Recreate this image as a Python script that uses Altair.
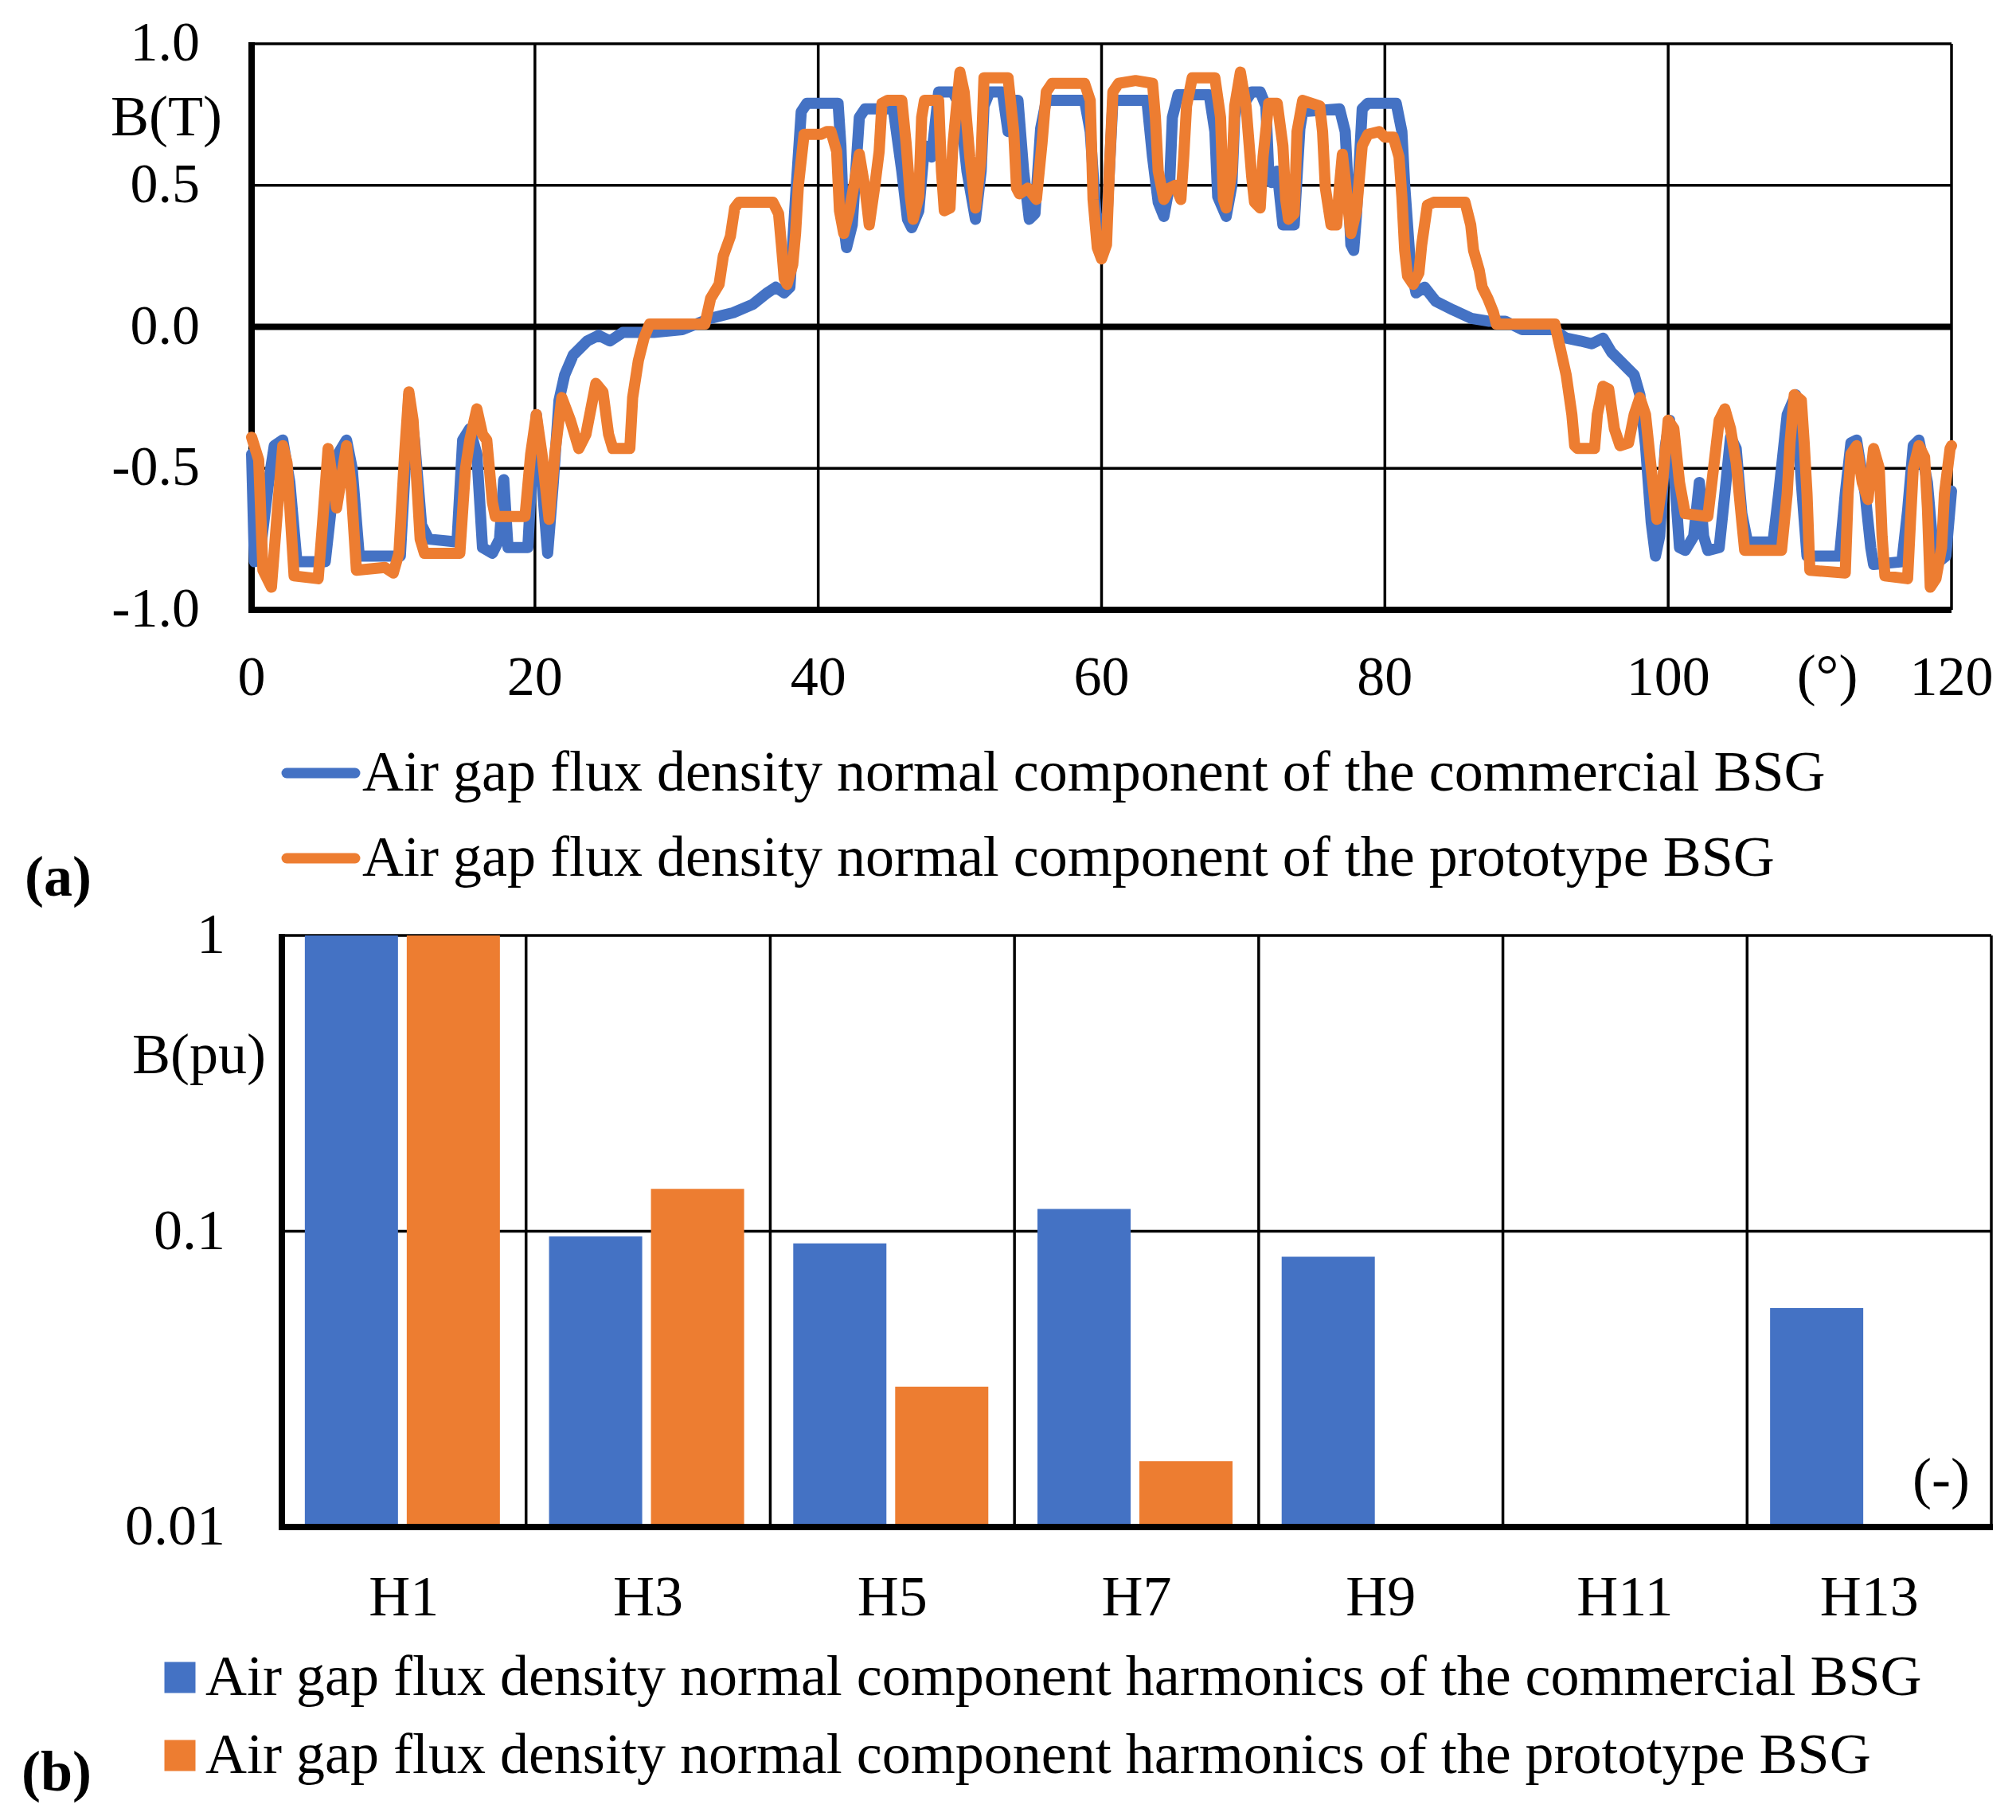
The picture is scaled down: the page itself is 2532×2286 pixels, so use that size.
import altair as alt
import pandas as pd

FONT = "Liberation Serif"
BLUE = "#4472C4"
ORANGE = "#ED7D31"

# ---------------- (a) waveform data ----------------
wave_series = [
    "Air gap flux density normal component of the commercial BSG",
    "Air gap flux density normal component of the prototype BSG",
]

commercial_angle = [
    0.0, 0.2, 0.6, 1.2, 1.6, 2.2, 2.7, 3.2, 5.2, 5.6, 6.1, 6.7, 7.1, 7.6, 10.5, 10.9, 11.1, 11.5,
    12.0, 12.5, 14.5, 14.9, 15.4, 15.9, 16.3, 17.0, 17.5, 17.8, 18.1, 19.5, 19.8, 20.1, 20.5, 20.9,
    21.3, 21.7, 22.1, 22.7, 23.7, 24.5, 25.3, 26.2, 27.5, 28.4, 30.4, 32.4, 34.0, 35.4, 36.4, 37.0,
    37.6, 38.0, 38.4, 38.8, 39.2, 41.4, 41.6, 41.8, 42.0, 42.4, 42.9, 43.3, 45.3, 45.9, 46.3, 46.6,
    47.1, 47.5, 48.0, 48.5, 49.5, 50.0, 50.5, 51.1, 51.5, 51.7, 52.1, 53.0, 53.4, 53.8, 54.1, 54.5,
    54.9, 55.3, 55.7, 56.1, 58.8, 59.2, 59.6, 60.0, 60.4, 60.8, 63.2, 63.6, 64.0, 64.4, 64.8, 65.0,
    65.4, 67.6, 68.0, 68.2, 68.8, 69.2, 69.4, 69.8, 70.2, 70.6, 71.2, 71.6, 71.8, 72.0, 72.4, 72.8,
    73.6, 74.0, 74.2, 76.8, 77.2, 77.4, 77.6, 77.8, 78.0, 78.4, 78.8, 80.8, 81.2, 81.4, 81.8, 82.2,
    82.8, 83.6, 84.8, 86.1, 87.3, 88.5, 89.7, 91.9, 92.8, 93.8, 94.6, 95.4, 96.0, 96.8, 97.6, 98.0,
    98.4, 98.8, 99.1, 99.4, 99.8, 100.1, 100.4, 100.8, 101.2, 101.8, 102.2, 102.5, 102.8, 103.6,
    104.0, 104.4, 104.8, 105.2, 105.6, 107.4, 107.8, 108.4, 109.0, 109.4, 109.8, 112.1, 112.5,
    112.9, 113.3, 113.9, 114.3, 114.5, 116.5, 116.9, 117.3, 117.7, 118.3, 118.7, 119.1, 119.6, 120.0,
]
commercial_b = [
    -0.45, -0.83, -0.80, -0.55, -0.42, -0.40, -0.55, -0.83, -0.83, -0.65, -0.45, -0.40, -0.50, -0.81,
    -0.81, -0.45, -0.24, -0.40, -0.70, -0.75, -0.76, -0.40, -0.36, -0.45, -0.78, -0.80, -0.75, -0.54,
    -0.78, -0.78, -0.50, -0.31, -0.55, -0.80, -0.55, -0.26, -0.17, -0.10, -0.05, -0.03, -0.05, -0.02,
    -0.02, -0.02, -0.01, 0.03, 0.05, 0.08, 0.12, 0.14, 0.12, 0.14, 0.46, 0.76, 0.79, 0.79, 0.64, 0.36,
    0.28, 0.36, 0.74, 0.77, 0.77, 0.55, 0.38, 0.35, 0.41, 0.64, 0.60, 0.83, 0.83, 0.78, 0.55, 0.38,
    0.55, 0.78, 0.83, 0.83, 0.69, 0.80, 0.80, 0.55, 0.38, 0.40, 0.70, 0.80, 0.80, 0.69, 0.40, 0.28,
    0.40, 0.80, 0.80, 0.60, 0.44, 0.39, 0.50, 0.74, 0.82, 0.82, 0.69, 0.46, 0.39, 0.50, 0.74, 0.86,
    0.80, 0.83, 0.83, 0.78, 0.55, 0.51, 0.55, 0.36, 0.36, 0.70, 0.76, 0.77, 0.69, 0.50, 0.29, 0.27,
    0.40, 0.77, 0.79, 0.79, 0.69, 0.50, 0.22, 0.12, 0.14, 0.09, 0.06, 0.03, 0.02, 0.02, -0.01, -0.01,
    -0.04, -0.05, -0.06, -0.04, -0.09, -0.13, -0.17, -0.24, -0.42, -0.69, -0.81, -0.74, -0.42, -0.33,
    -0.50, -0.78, -0.79, -0.74, -0.55, -0.74, -0.79, -0.78, -0.59, -0.39, -0.43, -0.66, -0.76, -0.76,
    -0.59, -0.31, -0.24, -0.55, -0.81, -0.81, -0.59, -0.41, -0.40, -0.59, -0.78, -0.84, -0.83, -0.65,
    -0.42, -0.40, -0.55, -0.78, -0.83, -0.81, -0.58,
]

prototype_angle = [
    0.0, 0.5, 0.8, 1.4, 1.9, 2.2, 2.5, 3.0, 4.7, 5.0, 5.4, 6.0, 6.7, 7.0, 7.4, 9.4, 10.0, 10.4, 10.8,
    11.1, 11.4, 11.9, 12.2, 14.7, 15.1, 15.4, 15.9, 16.3, 16.6, 17.0, 17.2, 19.3, 19.7, 20.1, 20.5,
    21.0, 21.4, 21.9, 22.5, 23.1, 23.6, 24.3, 24.8, 25.2, 25.5, 26.7, 26.9, 27.3, 27.7, 28.1, 32.0,
    32.4, 33.0, 33.3, 33.8, 34.1, 34.4, 36.8, 37.2, 37.4, 37.6, 37.8, 38.2, 38.4, 38.6, 39.0, 40.2,
    40.6, 40.9, 41.3, 41.5, 41.8, 42.2, 42.9, 43.3, 43.6, 44.0, 44.3, 44.5, 44.9, 45.9, 46.2, 46.5,
    46.7, 47.1, 47.3, 47.5, 48.5, 48.7, 48.9, 49.3, 49.5, 50.0, 50.3, 50.7, 51.1, 51.5, 51.7, 53.4,
    53.8, 54.0, 54.2, 54.8, 55.4, 55.8, 56.1, 56.5, 58.8, 59.2, 59.4, 59.7, 60.0, 60.35, 60.55, 60.8,
    61.2, 62.4, 63.6, 63.8, 64.0, 64.4, 64.8, 65.2, 65.6, 65.8, 66.0, 66.4, 68.0, 68.4, 68.6, 68.8,
    69.2, 69.4, 69.8, 70.2, 70.6, 70.8, 71.2, 71.4, 71.8, 72.4, 72.8, 73.0, 73.2, 73.6, 73.8, 74.2,
    75.4, 75.6, 75.8, 76.2, 76.6, 76.8, 77.0, 77.2, 77.6, 78.0, 78.4, 78.8, 79.6, 80.0, 80.6, 81.0,
    81.2, 81.4, 81.6, 82.0, 82.4, 82.6, 82.8, 83.0, 83.45, 85.66, 86.06, 86.26, 86.66, 86.87, 87.27,
    87.67, 87.87, 92.0, 92.4, 92.8, 93.2, 93.4, 93.6, 94.8, 95.0, 95.4, 95.8, 96.2, 96.6, 97.2, 97.6,
    98.0, 98.4, 98.8, 99.2, 99.6, 100.0, 100.4, 100.8, 101.2, 102.8, 103.2, 103.6, 104.0, 104.4,
    104.8, 105.2, 105.4, 108.0, 108.4, 108.6, 108.9, 109.4, 109.6, 109.8, 110.0, 112.5, 112.7, 112.9,
    113.3, 113.7, 114.1, 114.5, 114.9, 115.1, 115.3, 116.9, 117.1, 117.3, 117.7, 118.1, 118.3, 118.5,
    118.9, 119.3, 119.5, 119.9, 120.0,
]
prototype_b = [
    -0.39, -0.47, -0.86, -0.92, -0.60, -0.42, -0.48, -0.88, -0.89, -0.70, -0.43, -0.64, -0.42, -0.55,
    -0.86, -0.85, -0.87, -0.80, -0.45, -0.23, -0.33, -0.75, -0.80, -0.80, -0.50, -0.40, -0.29, -0.38,
    -0.40, -0.62, -0.67, -0.67, -0.45, -0.31, -0.45, -0.68, -0.45, -0.25, -0.33, -0.43, -0.38, -0.20,
    -0.23, -0.38, -0.43, -0.43, -0.25, -0.12, -0.04, 0.01, 0.01,
    0.10, 0.15, 0.25, 0.32, 0.42, 0.44, 0.44, 0.40, 0.29, 0.17, 0.15, 0.22, 0.33, 0.50, 0.68, 0.68,
    0.69, 0.69, 0.62, 0.41, 0.33, 0.41, 0.61, 0.49, 0.36, 0.50, 0.62, 0.79, 0.80, 0.80, 0.65, 0.46,
    0.38, 0.46, 0.74, 0.80, 0.80, 0.55, 0.41, 0.42, 0.64, 0.90, 0.83, 0.60, 0.42, 0.60, 0.88, 0.88,
    0.69, 0.49, 0.47, 0.49, 0.45, 0.65, 0.83, 0.86, 0.86, 0.80, 0.45, 0.28, 0.24, 0.29, 0.55, 0.83,
    0.86, 0.87, 0.86, 0.74, 0.55, 0.45, 0.49, 0.50, 0.45, 0.60, 0.78, 0.88, 0.88, 0.74, 0.45, 0.42,
    0.55, 0.78, 0.90, 0.78, 0.53, 0.44, 0.42, 0.60, 0.79, 0.79, 0.64, 0.45, 0.38, 0.40, 0.69, 0.80,
    0.78, 0.69, 0.49, 0.36, 0.36, 0.50, 0.61, 0.52, 0.33, 0.41, 0.64, 0.68, 0.69, 0.67, 0.67, 0.60,
    0.46, 0.27, 0.18, 0.15, 0.19, 0.29, 0.36, 0.43, 0.44, 0.44, 0.36, 0.27, 0.20, 0.14, 0.10,
    0.05, 0.01, 0.01, -0.08, -0.17, -0.31, -0.42, -0.43, -0.43, -0.31, -0.21, -0.22, -0.36, -0.42, -0.41, -0.31,
    -0.25, -0.31, -0.50, -0.68, -0.55, -0.33, -0.36, -0.55, -0.66, -0.67, -0.50, -0.33, -0.29, -0.36,
    -0.48, -0.69, -0.79, -0.79, -0.59, -0.41, -0.24, -0.26, -0.41, -0.59, -0.86, -0.87, -0.59, -0.45,
    -0.42, -0.55, -0.61, -0.43, -0.50, -0.74, -0.88, -0.89, -0.69, -0.50, -0.42, -0.46, -0.64, -0.92,
    -0.89, -0.78, -0.59, -0.43, -0.42,
]

# ---------------- (b) harmonic data ----------------
harmonics = ["H1", "H3", "H5", "H7", "H9", "H11", "H13"]
harm_series = [
    "Air gap flux density normal component harmonics of the commercial BSG",
    "Air gap flux density normal component harmonics of the prototype BSG",
]
harm_commercial = [1.0, 0.096, 0.091, 0.119, 0.082, None, 0.055]
harm_prototype = [1.0, 0.139, 0.0298, 0.0167, None, None, None]

# ---------------- axis ticks / texts ----------------
x_ticks_a = [0, 20, 40, 60, 80, 100, 120]
x_tick_labels_a = ["0", "20", "40", "60", "80", "100", "120"]
y_ticks_a = [-1.0, -0.5, 0.0, 0.5, 1.0]
y_tick_labels_a = ["-1.0", "-0.5", "0.0", "0.5", "1.0"]
y_ticks_b = [0.01, 0.1, 1.0]
y_tick_labels_b = ["0.01", "0.1", "1"]
panel_labels = ["(a)", "(b)"]
axis_titles = ["B(T)", "B(pu)", "(°)", "(-)"]

# ---------------- layout constants (pixels) ----------------
W1, H1 = 2135, 711
W2, H2 = 2185, 743
X0 = 38          # left offset of the (b) frame inside its view
GRID_W = 3.5
AXIS_W = 8
FS = 70          # tick label font size
FL = 72          # legend / title font size


def txt(df, field, x, y, size=FL, align="center", weight="normal", baseline="middle"):
    return alt.Chart(df).mark_text(
        align=align, baseline=baseline, font=FONT, fontSize=size, fontWeight=weight, color="black"
    ).encode(text=f"{field}:N", x=x, y=y)


# ================= (a) =================
xs_a = alt.Scale(domain=[0, 120], nice=False, zero=False)
ys_a = alt.Scale(domain=[-1, 1], nice=False, zero=False)

xt_df = pd.DataFrame({"v": x_ticks_a, "lab": x_tick_labels_a})
yt_df = pd.DataFrame({"v": y_ticks_a, "lab": y_tick_labels_a})

vgrid_a = alt.Chart(xt_df).mark_rule(color="black", strokeWidth=GRID_W).encode(
    x=alt.X("v:Q", scale=xs_a, axis=None), y=alt.value(0), y2=alt.value(H1))
hgrid_a = alt.Chart(yt_df).mark_rule(color="black", strokeWidth=GRID_W).encode(
    y=alt.Y("v:Q", scale=ys_a, axis=None), x=alt.value(0), x2=alt.value(W1))
zero_a = alt.Chart(pd.DataFrame({"v": [0.0]})).mark_rule(color="black", strokeWidth=AXIS_W).encode(
    y=alt.Y("v:Q", scale=ys_a, axis=None), x=alt.value(0), x2=alt.value(W1))
left_a = alt.Chart(pd.DataFrame({"v": [0.0]})).mark_rule(color="black", strokeWidth=AXIS_W).encode(
    x=alt.value(0), y=alt.value(-2), y2=alt.value(H1 + AXIS_W / 2))
bottom_a = alt.Chart(pd.DataFrame({"v": [-1.0]})).mark_rule(color="black", strokeWidth=AXIS_W).encode(
    y=alt.Y("v:Q", scale=ys_a, axis=None), x=alt.value(-AXIS_W / 2), x2=alt.value(W1))

xlab_a = alt.Chart(xt_df).mark_text(
    align="center", baseline="middle", font=FONT, fontSize=FS, color="black"
).encode(text="lab:N", x=alt.X("v:Q", scale=xs_a, axis=None), y=alt.value(H1 + 86))
ylab_a = alt.Chart(yt_df).mark_text(
    align="right", baseline="middle", font=FONT, fontSize=FS, color="black"
).encode(text="lab:N", y=alt.Y("v:Q", scale=ys_a, axis=None), x=alt.value(-65))

wave_df = pd.concat([
    pd.DataFrame({"angle": commercial_angle, "b": commercial_b, "series": wave_series[0]}),
    pd.DataFrame({"angle": prototype_angle, "b": prototype_b, "series": wave_series[1]}),
])
col_a = alt.Scale(domain=wave_series, range=[BLUE, ORANGE])
line_layers = []
for name in wave_series:
    line_layers.append(
        alt.Chart(wave_df).transform_filter(alt.datum.series == name).mark_line(
            strokeWidth=14, strokeCap="round", strokeJoin="round"
        ).encode(
            x=alt.X("angle:Q", scale=xs_a, axis=None),
            y=alt.Y("b:Q", scale=ys_a, axis=None),
            color=alt.Color("series:N", scale=col_a, legend=None),
        )
    )

title_df = pd.DataFrame({"t": axis_titles})
btitle_a = txt(title_df.iloc[[0]], "t", alt.value(-37), alt.value(93), align="right")
deg_a = txt(title_df.iloc[[2]], "t", alt.value(1979), alt.value(795))

legend_a_layers = []
for name, colr, yy in zip(wave_series, [BLUE, ORANGE], [916, 1023]):
    d = pd.DataFrame({"label": [name]})
    legend_a_layers.append(alt.Chart(d).mark_rule(
        color=colr, strokeWidth=13, strokeCap="round"
    ).encode(x=alt.value(44), x2=alt.value(130), y=alt.value(yy)))
    legend_a_layers.append(txt(d, "label", alt.value(139), alt.value(yy), align="left"))

plab_df = pd.DataFrame({"t": panel_labels})
label_a = txt(plab_df.iloc[[0]], "t", alt.value(-243), alt.value(1048), weight="bold")

top = alt.layer(
    vgrid_a, hgrid_a, left_a, bottom_a, zero_a, *line_layers, xlab_a, ylab_a,
    btitle_a, deg_a, *legend_a_layers, label_a
).properties(width=W1, height=H1)

# ================= (b) =================
xs_b = alt.Scale(domain=harmonics, range=[X0, W2], paddingInner=0, paddingOuter=0)
ys_b = alt.Scale(type="log", domain=[0.01, 1], nice=False)

yb_df = pd.DataFrame({"value": y_ticks_b, "lab": y_tick_labels_b})

hgrid_b = alt.Chart(yb_df.iloc[1:]).mark_rule(color="black", strokeWidth=GRID_W).encode(
    y=alt.Y("value:Q", scale=ys_b, axis=None), x=alt.value(X0), x2=alt.value(W2))
vgrid_b = alt.Chart(pd.DataFrame({"harm": harmonics[1:]})).mark_rule(
    color="black", strokeWidth=GRID_W
).encode(x=alt.X("harm:N", scale=xs_b, bandPosition=0, axis=None),
         y=alt.value(0), y2=alt.value(H2))
right_b = alt.Chart(pd.DataFrame({"harm": [harmonics[-1]]})).mark_rule(
    color="black", strokeWidth=GRID_W
).encode(x=alt.X("harm:N", scale=xs_b, bandPosition=1, axis=None),
         y=alt.value(0), y2=alt.value(H2))

bar_layers = []
for name, vals, colr, off in zip(harm_series, [harm_commercial, harm_prototype],
                                  [BLUE, ORANGE], [-66, 62]):
    d = pd.DataFrame({"harm": harmonics, "value": vals, "series": name}).dropna()
    bar_layers.append(alt.Chart(d).mark_bar(color=colr, width=117, xOffset=off).encode(
        x=alt.X("harm:N", scale=xs_b, axis=None),
        y=alt.Y("value:Q", scale=ys_b, axis=None),
        y2=alt.datum(0.01),
    ))

left_b = alt.Chart(pd.DataFrame({"v": [0.0]})).mark_rule(color="black", strokeWidth=AXIS_W).encode(
    x=alt.value(X0), y=alt.value(-2), y2=alt.value(H2 + AXIS_W / 2))
bottom_b = alt.Chart(yb_df.iloc[[0]]).mark_rule(color="black", strokeWidth=AXIS_W).encode(
    y=alt.Y("value:Q", scale=ys_b, axis=None), x=alt.value(X0 - AXIS_W / 2), x2=alt.value(W2 + 2))

xlab_b = alt.Chart(pd.DataFrame({"harm": harmonics})).mark_text(
    align="center", baseline="middle", font=FONT, fontSize=FL, color="black"
).encode(text="harm:N", x=alt.X("harm:N", scale=xs_b, axis=None), y=alt.value(H2 + 89))
ylab_b = alt.Chart(yb_df).mark_text(
    align="right", baseline="middle", font=FONT, fontSize=FL, color="black"
).encode(text="lab:N", y=alt.Y("value:Q", scale=ys_b, axis=None), x=alt.value(-33))

btitle_b = txt(title_df.iloc[[1]], "t", alt.value(18), alt.value(151), align="right")
unit_b = txt(title_df.iloc[[3]], "t", alt.value(2122), alt.value(684))

legend_b_layers = []
for name, colr, yy in zip(harm_series, [BLUE, ORANGE], [932, 1030]):
    d = pd.DataFrame({"label": [name]})
    legend_b_layers.append(alt.Chart(d).mark_square(
        color=colr, size=1521, opacity=1, filled=True
    ).encode(x=alt.value(-90), y=alt.value(yy)))
    legend_b_layers.append(txt(d, "label", alt.value(-58), alt.value(yy), align="left"))

label_b = txt(plab_df.iloc[[1]], "t", alt.value(-245), alt.value(1052), weight="bold")

bottom = alt.layer(
    hgrid_b, vgrid_b, right_b, *bar_layers, left_b, bottom_b, xlab_b, ylab_b,
    btitle_b, unit_b, *legend_b_layers, label_b
).properties(width=W2, height=H2)

chart = alt.vconcat(top, bottom, spacing=0).properties(
    padding={"left": 19, "top": 12, "right": 5, "bottom": 5},
    background="white",
).configure_view(stroke=None)

chart.save("out.html", embed_options={"renderer": "svg", "actions": False})
